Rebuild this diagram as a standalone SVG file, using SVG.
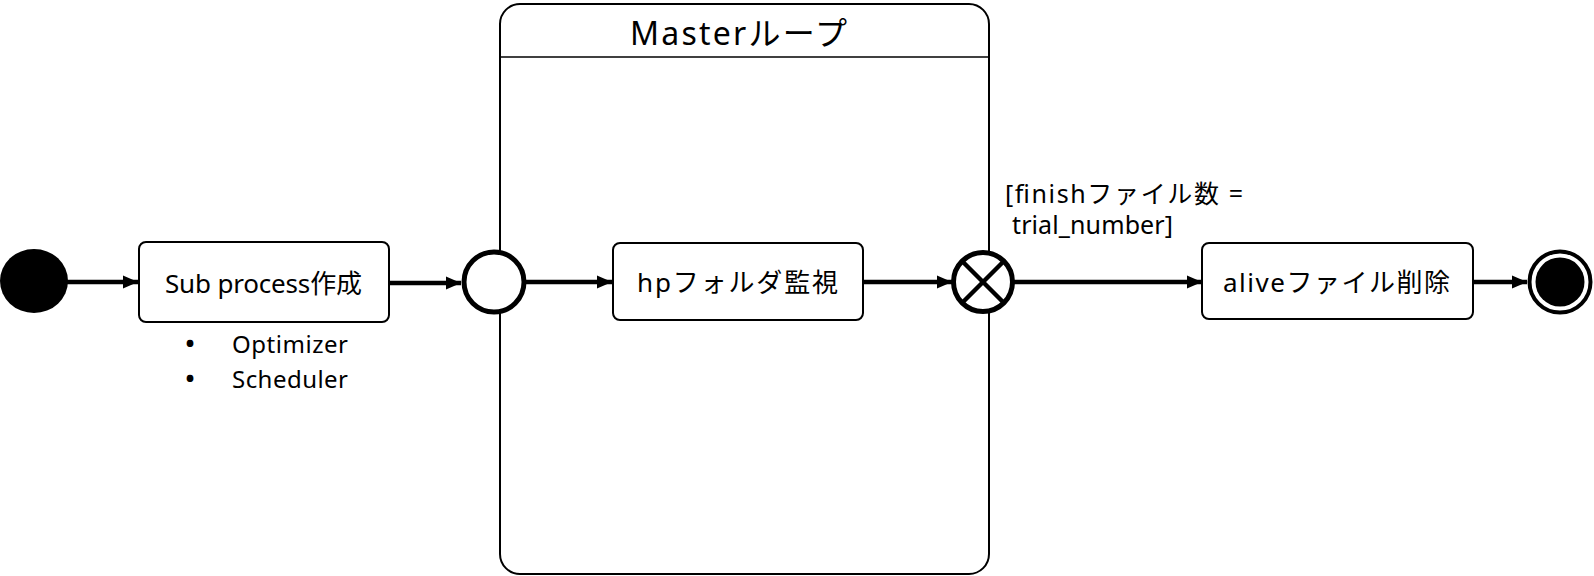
<svg xmlns="http://www.w3.org/2000/svg" width="1594" height="576" viewBox="0 0 1594 576">
  <style>
    .t { font-family: "Noto Sans", "Noto Sans CJK JP", sans-serif; fill: #000; }
    .bul { font-family: "Noto Sans", sans-serif; font-size: 24px; font-weight: bold; fill: #000; }
    .box { fill: #fff; stroke: #000; stroke-width: 2; }
    .conn { stroke: #000; stroke-width: 4.5; fill: none; marker-end: url(#arr); }
    .ring { fill: #fff; stroke: #000; stroke-width: 5; }
  </style>
  <defs>
    <marker id="arr" markerUnits="userSpaceOnUse" markerWidth="15" markerHeight="15" viewBox="0 0 15 15" refX="15" refY="7.5" orient="auto">
      <path d="M0,1 L15,7.5 L0,14 Z" fill="#000"/>
    </marker>
  </defs>
  <rect width="1594" height="576" fill="#fff"/>

  <g id="master-loop">
    <rect x="500" y="4" width="489" height="570" rx="20" ry="20" fill="#fff" stroke="#000" stroke-width="2"/>
    <line x1="500" y1="57" x2="989" y2="57" stroke="#000" stroke-width="1.5"/>
    <text class="t" x="630" y="45" font-size="32" textLength="217">Masterループ</text>
  </g>

  <g id="connectors">
    <line class="conn" x1="66" y1="282" x2="138" y2="282"/>
    <line class="conn" x1="389" y1="283" x2="461" y2="283"/>
    <line class="conn" x1="525" y1="282" x2="612" y2="282"/>
    <line class="conn" x1="863" y1="282" x2="952" y2="282"/>
    <line class="conn" x1="1014" y1="282" x2="1202" y2="282"/>
    <line class="conn" x1="1473" y1="282" x2="1527" y2="282"/>
    <text class="t" x="1005" y="203" font-size="25" textLength="238">[finishファイル数 =</text>
    <text class="t" x="1012" y="234" font-size="25" textLength="161">trial_number]</text>
  </g>

  <g id="start">
    <ellipse cx="34" cy="281" rx="34" ry="32" fill="#000"/>
  </g>

  <g id="sub-process">
    <rect class="box" x="139" y="242" width="250" height="80" rx="7" ry="7"/>
    <text class="t" x="165" y="293" font-size="26" textLength="197">Sub process作成</text>
    <text class="bul" x="190" y="352" text-anchor="middle">•</text>
    <text class="t" x="232" y="353" font-size="24" textLength="116">Optimizer</text>
    <text class="bul" x="190" y="387" text-anchor="middle">•</text>
    <text class="t" x="232" y="388" font-size="24" textLength="116">Scheduler</text>
  </g>

  <g id="merge">
    <circle class="ring" cx="494" cy="282" r="30"/>
  </g>

  <g id="hp-watch">
    <rect class="box" x="613" y="243" width="250" height="77" rx="7" ry="7"/>
    <text class="t" x="637" y="292" font-size="26" textLength="201">hpフォルダ監視</text>
  </g>

  <g id="decision">
    <circle class="ring" cx="983" cy="282" r="29.5"/>
    <line x1="962" y1="261" x2="1004" y2="303" stroke="#000" stroke-width="4.5"/>
    <line x1="1004" y1="261" x2="962" y2="303" stroke="#000" stroke-width="4.5"/>
  </g>

  <g id="alive-delete">
    <rect class="box" x="1202" y="243" width="271" height="76" rx="7" ry="7"/>
    <text class="t" x="1223" y="292" font-size="26" textLength="227">aliveファイル削除</text>
  </g>

  <g id="end">
    <circle cx="1560" cy="282" r="30.5" fill="#fff" stroke="#000" stroke-width="4"/>
    <circle cx="1560" cy="282" r="24.5" fill="#000"/>
  </g>
</svg>
